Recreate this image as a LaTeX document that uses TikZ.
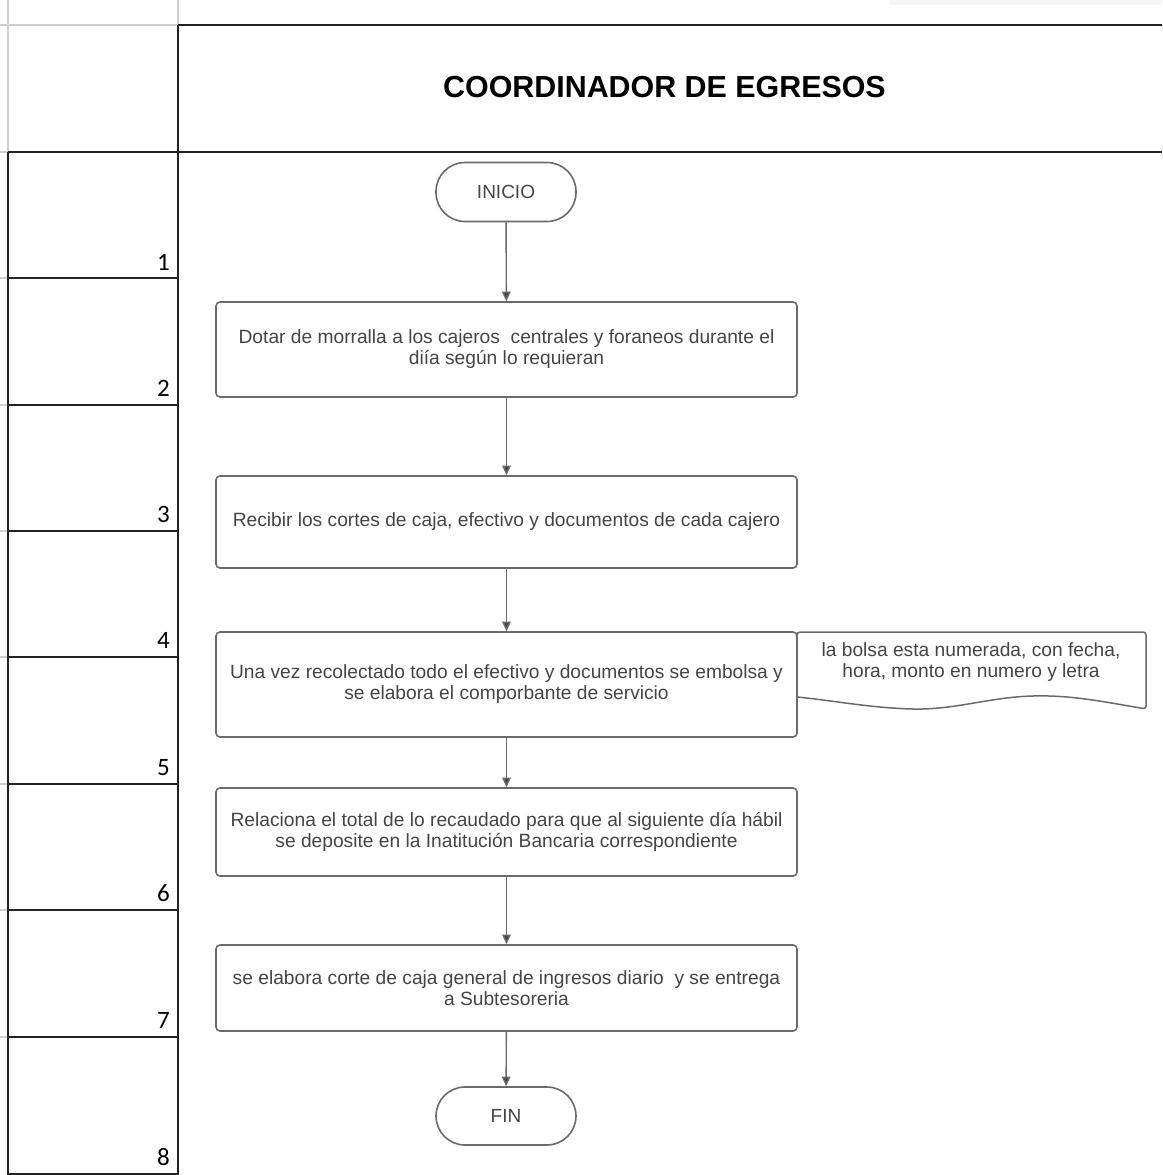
\documentclass[tikz,border=0pt]{standalone}
\usepackage{fontspec}
\setmainfont{Liberation Sans}
\newfontfamily\calibri{Carlito}
\usetikzlibrary{arrows.meta}
\definecolor{txtgray}{HTML}{454545}
\definecolor{shpgray}{HTML}{6A6A6A}
\definecolor{gridgray}{HTML}{CFCFCF}
\definecolor{tblline}{HTML}{222222}
\tikzset{
  tbl/.style={draw=tblline, line width=1.6pt},
  grid/.style={draw=gridgray, line width=1.2pt},
  bodyfont/.style={font=\fontsize{19.2}{21}\selectfont},
  proc/.style={draw=shpgray, line width=1.6pt, rounded corners=4pt, fill=white,
    minimum width=581pt, text=txtgray, align=center, bodyfont},
  term/.style={draw=shpgray, line width=1.6pt, rounded corners=29pt, fill=white,
    minimum width=140pt, minimum height=59pt, text=txtgray, font=\fontsize{19}{21}\selectfont},
  flow/.style={draw=shpgray, line width=1.4pt, -{Triangle[width=8.5pt,length=9.5pt,fill=txtgray]}},
  rownum/.style={anchor=base east, font=\calibri\fontsize{25}{25}\selectfont, text=black, inner sep=0pt},
}
\begin{document}
\begin{tikzpicture}[x=1pt,y=-1pt]
\useasboundingbox (0,0) rectangle (1162,1175);
\fill[white] (0,0) rectangle (1162,1175);
% faint shading at top right
\fill[black!4] (890,0) rectangle (1162,5);
% light spreadsheet grid
\draw[grid] (8,0) -- (8,152);
\draw[grid] (178,0) -- (178,25);
\draw[grid] (0,25) -- (178,25);
\foreach \yy in {152,278,405,531,657,784,910,1037} {\draw[grid] (0,\yy) -- (8,\yy);}
% table lines
\draw[tbl] (178,25) -- (1162,25);
\draw[tbl] (178,25) -- (178,1175);
\draw[tbl] (8,152) -- (1162,152);
\draw[tbl] (8,152) -- (8,1175);
\draw[tbl] (8,1174) -- (178,1174);
\foreach \yy in {278,405,531,657,784,910,1037} {\draw[tbl] (8,\yy) -- (178,\yy);}
% row numbers
\node[rownum] (n1) at (170,270) {1};
\node[rownum] (n2) at (170,396) {2};
\node[rownum] (n3) at (170,522) {3};
\node[rownum] (n4) at (170,648) {4};
\node[rownum] (n5) at (170,775) {5};
\node[rownum] (n6) at (170,901) {6};
\node[rownum] (n7) at (170,1028) {7};
\node[rownum] (n8) at (170,1165) {8};
% title
\node[font=\bfseries\fontsize{30.4}{30}\selectfont, text=black] (title) at (664.5,87) {COORDINADOR DE EGRESOS};
% flowchart
\node[term] (ini) at (506,192) {INICIO};
\node[proc, minimum height=95pt] (b1) at (506.5,349.5) {Dotar de morralla a los cajeros\ \ centrales y foraneos durante el\\ diía según lo requieran};
\node[proc, minimum height=92pt] (b2) at (506.5,522) {Recibir los cortes de caja, efectivo y documentos de cada cajero};
\node[proc, minimum height=105pt] (b3) at (506.5,684.5) {Una vez recolectado todo el efectivo y documentos se embolsa y\\ se elabora el comporbante de servicio};
\node[proc, minimum height=88pt] (b4) at (506.5,832) {Relaciona el total de lo recaudado para que al siguiente día hábil\\ se deposite en la Inatitución Bancaria correspondiente};
\node[proc, minimum height=86pt] (b5) at (506.5,988) {se elabora corte de caja general de ingresos diario\ \ y se entrega\\ a Subtesoreria};
\node[term, minimum height=58pt] (fin) at (506,1116) {FIN};
% document shape
\draw[draw=shpgray, line width=1.5pt, fill=white, rounded corners=3pt]
  (797,700) -- (797,632) -- (1146,632) -- (1146,709) [sharp corners]
  .. controls (1100,701) and (1070,695) .. (1033,696)
  .. controls (990,697) and (955,710) .. (913,709)
  .. controls (870,708) and (830,700) .. (797,697);
\node[text=txtgray, align=center, bodyfont] (note) at (971,662) {la bolsa esta numerada, con fecha,\\ hora, monto en numero y letra};
% connectors
\draw[flow] (ini) -- (b1);
\draw[flow] (b1) -- (b2);
\draw[flow] (b2) -- (b3);
\draw[flow] (b3) -- (b4);
\draw[flow] (b4) -- (b5);
\draw[flow] (b5) -- (fin);
\end{tikzpicture}
\end{document}
